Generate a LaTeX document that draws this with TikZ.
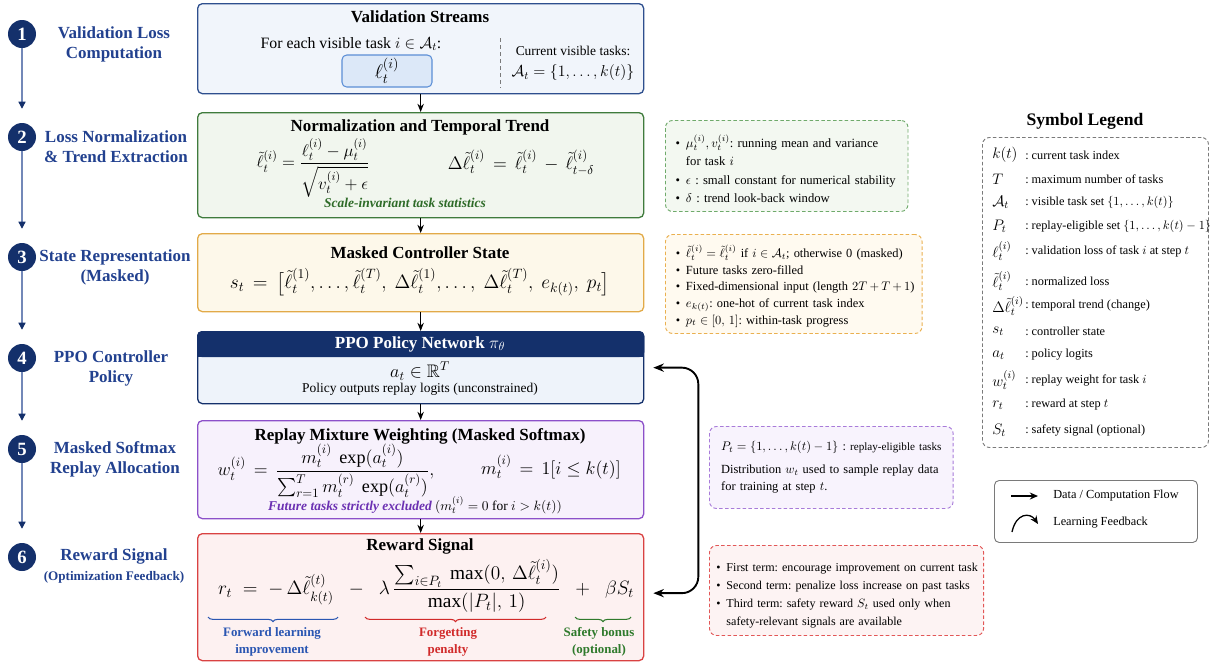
\RequirePackage{fix-cm}
\documentclass[tikz,border=0pt]{standalone}
\usepackage{amsmath,amssymb}
\usepackage{fontspec}
\setmainfont{Liberation Serif}
\usepackage{enumitem}
\usetikzlibrary{arrows.meta,decorations.pathreplacing,calc}

\definecolor{navy}{HTML}{14306B}
\definecolor{lblblue}{HTML}{22418F}
\definecolor{tlgray}{HTML}{7388B8}
\definecolor{vsbd}{HTML}{2E4F8E}
\definecolor{vsbg}{HTML}{F1F5FB}
\definecolor{lossbd}{HTML}{5B8ED6}
\definecolor{lossbg}{HTML}{DCE8F8}
\definecolor{ntbd}{HTML}{3F7B3C}
\definecolor{ntbg}{HTML}{F1F6EE}
\definecolor{nttext}{HTML}{2E6B28}
\definecolor{csbd}{HTML}{E2AA48}
\definecolor{csbg}{HTML}{FDF8EA}
\definecolor{ppobg}{HTML}{EEF3FA}
\definecolor{rmwbd}{HTML}{8C50C9}
\definecolor{rmwbg}{HTML}{F7F1FC}
\definecolor{rmwtext}{HTML}{6B30B2}
\definecolor{rewbd}{HTML}{D94242}
\definecolor{rewbg}{HTML}{FDF1F1}
\definecolor{fwdblue}{HTML}{2A56B2}
\definecolor{fgtred}{HTML}{D12A2A}
\definecolor{safegreen}{HTML}{2F7A2C}
\definecolor{gnbd}{HTML}{6FAA6B}
\definecolor{gnbg}{HTML}{F3F8F1}
\definecolor{onbd}{HTML}{EAB04F}
\definecolor{onbg}{HTML}{FFFAF0}
\definecolor{pnbd}{HTML}{A87BD9}
\definecolor{pnbg}{HTML}{F8F3FD}
\definecolor{rnbd}{HTML}{E25757}
\definecolor{rnbg}{HTML}{FDF3F3}
\definecolor{leggray}{HTML}{7A7A7A}

\newlist{notelist}{itemize}{1}
\setlist[notelist]{label=\textbullet, leftmargin=11pt, labelsep=5pt, nosep}
\frenchspacing

\tikzset{
  mainbox/.style={draw, line width=1.1pt, rounded corners=4pt, anchor=north west, inner sep=0pt, minimum width=13.38cm},
  notebox/.style={draw, line width=0.8pt, dash pattern=on 3pt off 2pt, rounded corners=6pt, anchor=north west, inner xsep=6.5pt, inner ysep=0pt, align=left, font=\fontsize{10.8}{15.5}\selectfont},
  boxtitle/.style={inner sep=1pt, font=\fontsize{14.5}{17}\selectfont\bfseries},
  bodytext/.style={inner sep=1pt, font=\fontsize{13.5}{16}\selectfont},
  smalltext/.style={inner sep=1pt, font=\fontsize{11.5}{14}\selectfont},
  formula/.style={inner sep=1pt, font=\fontsize{15.5}{18}\selectfont},
  lossbox/.style={draw=lossbd, fill=lossbg, line width=0.9pt, rounded corners=4pt, minimum width=2.7cm, minimum height=0.96cm, inner sep=0pt, font=\fontsize{17}{20}\selectfont},
  stepnum/.style={circle, fill=navy, text=white, minimum size=0.84cm, inner sep=0pt, font=\fontsize{16}{16}\selectfont\bfseries},
  steplbl/.style={align=center, inner sep=1pt, text=lblblue, font=\fontsize{14.5}{17}\selectfont\bfseries},
  tline/.style={tlgray, line width=1pt, -{Triangle[length=6pt,width=6pt,color=navy,fill=navy]}, shorten >=0.42cm},
  flow/.style={line width=1pt, -{Stealth[length=7pt,width=5.5pt]}},
  fbarrow/.style={line width=1.6pt, {Stealth[length=9pt,width=7pt]}-{Stealth[length=9pt,width=7pt]}, rounded corners=14pt},
  termlbl/.style={align=center, inner sep=1pt, font=\fontsize{11}{14}\selectfont\bfseries},
  termbrace/.style={line width=0.9pt, decorate, decoration={brace, mirror, amplitude=4pt}},
  legsym/.style={anchor=west, inner sep=0pt, font=\fontsize{13}{15}\selectfont},
  legdesc/.style={anchor=west, inner sep=0pt, font=\fontsize{10.5}{13}\selectfont},
}

\begin{document}
\begin{tikzpicture}[x=0.03cm, y=-0.03cm]
\useasboundingbox (0,0) rectangle (1215,662);

% step timeline
\node[stepnum] (s1) at (22,34) {1};
\node[stepnum] (s2) at (22,137) {2};
\node[stepnum] (s3) at (22,257) {3};
\node[stepnum] (s4) at (22,358) {4};
\node[stepnum] (s5) at (22,449) {5};
\node[stepnum] (s6) at (22,557) {6};
\draw[tline] (s1) -- (s2);
\draw[tline] (s2) -- (s3);
\draw[tline] (s3) -- (s4);
\draw[tline] (s4) -- (s5);
\draw[tline] (s5) -- (s6);

\node[steplbl] (l1) at (114,44) {Validation Loss\\Computation};
\node[steplbl] (l2) at (116,147) {Loss Normalization\\\& Trend Extraction};
\node[steplbl] (l3) at (115,267) {State Representation\\(Masked)};
\node[steplbl] (l4) at (111,368) {PPO Controller\\Policy};
\node[steplbl] (l5) at (115,459) {Masked Softmax\\Replay Allocation};
\node[steplbl] (l6) at (114,566) {Reward Signal\\{\fontsize{11.2}{13}\selectfont(Optimization Feedback)}};

% 1: validation streams
\node[mainbox, draw=vsbd, fill=vsbg, minimum height=2.7cm] (vs) at (197,3) {};
\node[boxtitle] (vstitle) at (420,17) {Validation Streams};
\node[bodytext] (vsfor) at (351,44) {For each visible task $i \in \mathcal{A}_t$:};
\node[lossbox] (vsloss) at (387,71) {$\ell_t^{(i)}$};
\coordinate (vssepa) at (500,38);
\coordinate (vssepb) at (500,88);
\draw[leggray, dashed, line width=0.6pt] (vssepa) -- (vssepb);
\node[smalltext] (vscur) at (573,51) {Current visible tasks:};
\node[bodytext] (vsset) at (573,73) {$\mathcal{A}_t = \{1, \ldots, k(t)\}$};

% 2: normalization
\node[mainbox, draw=ntbd, fill=ntbg, minimum height=3.15cm] (nt) at (197,112) {};
\node[boxtitle] (nttitle) at (420,127) {Normalization and Temporal Trend};
\node[formula, font=\fontsize{14.5}{17}\selectfont] (ntnorm) at (313,168) {$\tilde{\ell}_t^{(i)} = \dfrac{\ell_t^{(i)} - \mu_t^{(i)}}{\sqrt{v_t^{(i)} + \epsilon}}$};
\node[formula] (nttrend) at (521,163) {$\Delta\tilde{\ell}_t^{(i)} \,=\, \tilde{\ell}_t^{(i)} \,-\, \tilde{\ell}_{t-\delta}^{(i)}$};
\node[smalltext, text=nttext] (ntnote) at (405,203) {\bfseries\itshape Scale-invariant task statistics};

% 3: controller state
\node[mainbox, draw=csbd, fill=csbg, minimum height=2.34cm] (cs) at (197,233) {};
\node[boxtitle] (cstitle) at (420,253) {Masked Controller State};
\node[formula, font=\fontsize{16.5}{19}\selectfont] (csstate) at (420,282) {$s_t \,=\, \big[\tilde{\ell}_t^{(1)}, \ldots, \tilde{\ell}_t^{(T)},\ \Delta\tilde{\ell}_t^{(1)}, \ldots,\ \Delta\tilde{\ell}_t^{(T)},\ e_{k(t)},\ p_t\big]$};

% 4: ppo policy
\node[mainbox, draw=navy, fill=ppobg, minimum height=2.16cm] (ppo) at (197,331) {};
\fill[navy, rounded corners=4pt] (ppo.north west) rectangle ([yshift=-0.78cm]ppo.north east);
\fill[navy] ([yshift=-0.4cm]ppo.north west) rectangle ([yshift=-0.78cm]ppo.north east);
\node[boxtitle, text=white] (ppotitle) at (420,344) {PPO Policy Network $\pi_\theta$};
\node[formula] (ppoact) at (420,371) {$a_t \in \mathbb{R}^T$};
\node[smalltext] (ppoout) at (420,389) {Policy outputs replay logits (unconstrained)};

% 5: replay mixture
\node[mainbox, draw=rmwbd, fill=rmwbg, minimum height=2.94cm] (rmw) at (197,420) {};
\node[boxtitle] (rmwtitle) at (420,436) {Replay Mixture Weighting (Masked Softmax)};
\node[formula] (rmwweight) at (326,471) {$w_t^{(i)} \,=\, \dfrac{m_t^{(i)}\ \exp(a_t^{(i)})}{\sum_{r=1}^{T} m_t^{(r)}\ \exp(a_t^{(r)})},$};
\node[formula] (rmwmask) at (551,467) {$m_t^{(i)} \,=\, 1[i \le k(t)]$};
\node[smalltext] (rmwnote) at (415,505) {\textcolor{rmwtext}{\bfseries\itshape Future tasks strictly excluded} $(m_t^{(i)} = 0$ for $i > k(t))$};

% 6: reward signal
\node[mainbox, draw=rewbd, fill=rewbg, minimum height=3.81cm] (rew) at (197,533) {};
\node[boxtitle] (rewtitle) at (420,546) {Reward Signal};
\node[formula, font=\fontsize{16.5}{19}\selectfont] (rewform) at (426,586) {$r_t \;=\; -\,\Delta\tilde{\ell}^{(t)}_{k(t)} \;\;-\;\; \lambda\, \dfrac{\sum_{i \in P_t}\ \max(0,\,\Delta\tilde{\ell}_t^{(i)})}{\max(|P_t|,\,1)} \;\;+\;\; \beta S_t$};
\coordinate (fwda) at (208,617);
\coordinate (fwdb) at (338,617);
\coordinate (fgta) at (365,617);
\coordinate (fgtb) at (546,617);
\coordinate (safa) at (575,617);
\coordinate (safb) at (631,617);
\draw[termbrace, fwdblue] (fwda) -- (fwdb);
\draw[termbrace, fgtred] (fgta) -- (fgtb);
\draw[termbrace, safegreen] (safa) -- (safb);
\node[termlbl, text=fwdblue] (fwdlbl) at (272,642) {Forward learning\\improvement};
\node[termlbl, text=fgtred] (fgtlbl) at (448,642) {Forgetting\\penalty};
\node[termlbl, text=safegreen] (saflbl) at (599,642) {Safety bonus\\(optional)};

% data flow
\draw[flow] (vs) -- (nt);
\draw[flow] (nt) -- (cs);
\draw[flow] (cs) -- (ppo);
\draw[flow] (ppo) -- (rmw);
\draw[flow] (rmw) -- (rew);

% learning feedback
\draw[fbarrow] ([xshift=0.27cm,yshift=0.12cm]rew.east) -| ($(ppo.east)!0.5!(rew.east)+(1.62cm,0)$) |- ([xshift=0.27cm]ppo.east);

% side notes
\node[notebox, draw=gnbd, fill=gnbg, text width=194pt, minimum height=2.73cm] (ntside) at (665,120) {%
\begin{notelist}
\item $\mu_t^{(i)}, v_t^{(i)}$: running mean and variance\\for task $i$
\item $\epsilon$ : small constant for numerical stability
\item $\delta$ : trend look-back window
\end{notelist}};
\node[notebox, draw=onbd, fill=onbg, text width=206pt, minimum height=2.97cm, font=\fontsize{10.6}{14.2}\selectfont] (csside) at (665,234) {%
\begin{notelist}
\item $\tilde{\ell}_t^{(i)} = \tilde{\ell}_t^{(i)}$ if $i \in \mathcal{A}_t$; otherwise 0 (masked)
\item Future tasks zero-filled
\item Fixed-dimensional input (length $2T + T + 1$)
\item $e_{k(t)}$: one-hot of current task index
\item $p_t \in [0,\, 1]$: within-task progress
\end{notelist}};
\node[notebox, draw=pnbd, fill=pnbg, text width=188pt, inner xsep=10pt, minimum height=2.46cm, font=\fontsize{10.6}{14.5}\selectfont] (rmwside) at (709,426) {%
$P_t = \{1, \ldots, k(t) - 1\}$ : {\fontsize{9.5}{12}\selectfont replay-eligible tasks}\\[5pt]
Distribution $w_t$ used to sample replay data\\for training at step $t$.};
\node[notebox, draw=rnbd, fill=rnbg, text width=227pt, inner xsep=3.5pt, minimum height=2.7cm, font=\fontsize{10.3}{15.5}\selectfont] (rewside) at (709,545) {%
\begin{notelist}
\item First term: encourage improvement on current task
\item Second term: penalize loss increase on past tasks
\item Third term: safety reward $S_t$ used only when\\safety-relevant signals are available
\end{notelist}};

% symbol legend
\node[boxtitle, font=\fontsize{15}{17}\selectfont\bfseries] (legtitle) at (1085,121) {Symbol Legend};
\node[draw=leggray, line width=0.8pt, dash pattern=on 3pt off 2pt, rounded corners=6pt, anchor=north west, minimum width=6.78cm, minimum height=9.3cm, inner sep=0pt] (legbox) at (982,137) {};
\node[legsym] (lsk) at (992,155) {$k(t)$};
\node[legdesc] (ldk) at (1025,155) {: current task index};
\node[legsym] (lsT) at (992,179) {$T$};
\node[legdesc] (ldT) at (1025,179) {: maximum number of tasks};
\node[legsym] (lsA) at (992,202) {$\mathcal{A}_t$};
\node[legdesc] (ldA) at (1025,202) {: visible task set $\{1, \ldots, k(t)\}$};
\node[legsym] (lsP) at (992,226) {$P_t$};
\node[legdesc] (ldP) at (1025,226) {: replay-eligible set $\{1, \ldots, k(t) - 1\}$};
\node[legsym] (lsl) at (992,251) {$\ell_t^{(i)}$};
\node[legdesc] (ldl) at (1025,251) {: validation loss of task $i$ at step $t$};
\node[legsym] (lsn) at (992,281) {$\tilde{\ell}_t^{(i)}$};
\node[legdesc] (ldn) at (1025,281) {: normalized loss};
\node[legsym] (lsd) at (992,306) {$\Delta\tilde{\ell}_t^{(i)}$};
\node[legdesc] (ldd) at (1025,306) {: temporal trend (change)};
\node[legsym] (lss) at (992,331) {$s_t$};
\node[legdesc] (lds) at (1025,331) {: controller state};
\node[legsym] (lsa) at (992,355) {$a_t$};
\node[legdesc] (lda) at (1025,355) {: policy logits};
\node[legsym] (lsw) at (992,380) {$w_t^{(i)}$};
\node[legdesc] (ldw) at (1025,380) {: replay weight for task $i$};
\node[legsym] (lsr) at (992,405) {$r_t$};
\node[legdesc] (ldr) at (1025,405) {: reward at step $t$};
\node[legsym] (lsS) at (992,430) {$S_t$};
\node[legdesc] (ldS) at (1025,430) {: safety signal (optional)};

% arrow legend
\node[draw=leggray, line width=0.8pt, rounded corners=4pt, anchor=north west, minimum width=6.09cm, minimum height=1.86cm, inner sep=0pt] (arrleg) at (994,480) {};
\coordinate (lfa) at (1011,496);
\coordinate (lfb) at (1038,496);
\draw[line width=1.4pt, -{Stealth[length=7pt,width=6pt]}] (lfa) -- (lfb);
\node[legdesc] (lflow) at (1053,496) {Data / Computation Flow};
\coordinate (lba) at (1012,532);
\coordinate (lbb) at (1038,524);
\draw[line width=1.1pt, -{Stealth[length=7pt,width=6pt]}] (lba) .. controls (1016,513) and (1030,512) .. (lbb);
\node[legdesc] (lback) at (1053,523) {Learning Feedback};
\end{tikzpicture}
\end{document}
